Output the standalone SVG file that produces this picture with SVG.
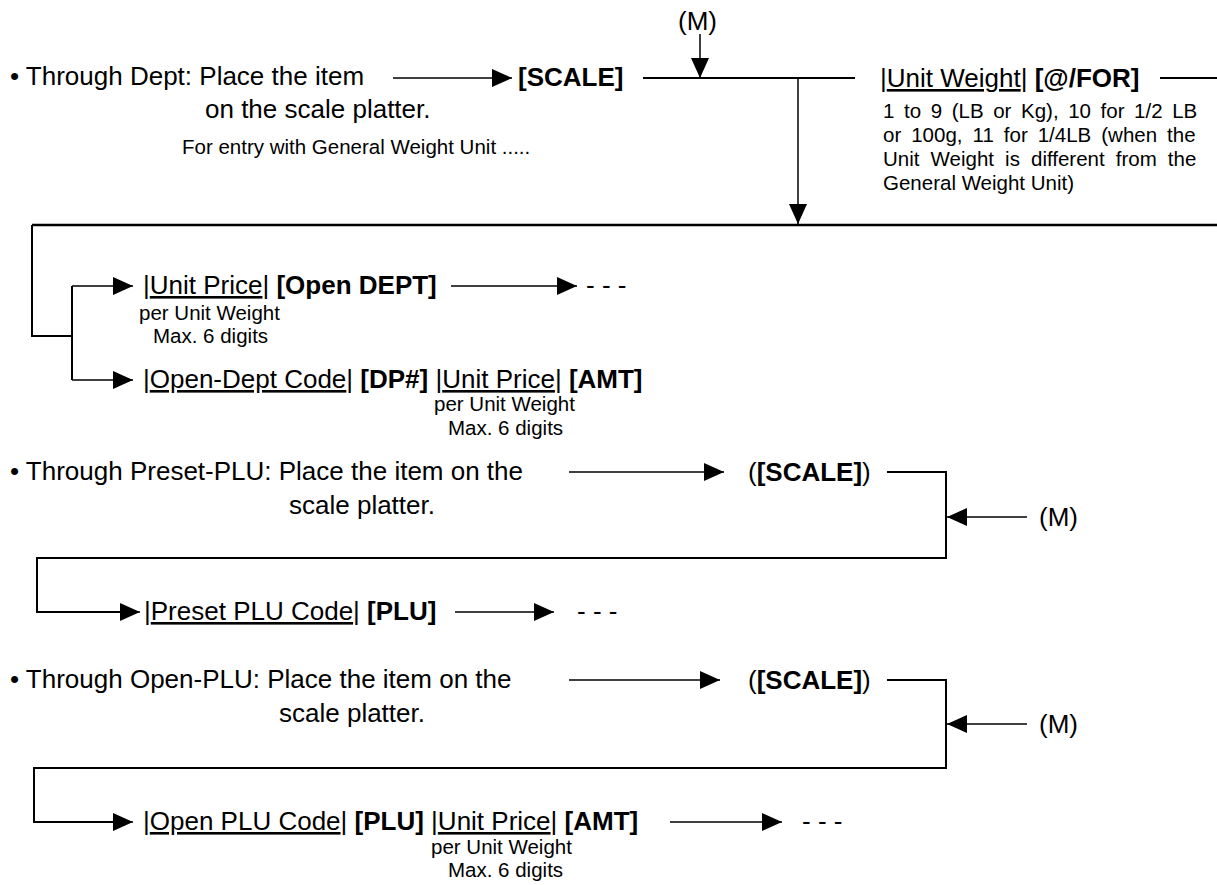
<svg xmlns="http://www.w3.org/2000/svg" width="1217" height="885" viewBox="0 0 1217 885">
<defs>
<marker id="ah" viewBox="0 0 20 18" markerWidth="20" markerHeight="18" refX="20" refY="9" orient="auto" markerUnits="userSpaceOnUse"><path d="M0,0 L20,9 L0,18 Z" fill="#000"/></marker>
<style>
text{font-family:"Liberation Sans",Arial,Helvetica,sans-serif;font-size:26px;fill:#000}
.s{font-size:20.5px}
.b{font-weight:bold}
.u{text-decoration:underline}
.ar{stroke:#000;stroke-width:1.5;fill:none;marker-end:url(#ah)}
.ln{stroke:#000;stroke-width:2;fill:none}
.lk{stroke:#000;stroke-width:2.5;fill:none}
</style>
</defs>
<rect width="1217" height="885" fill="#fff"/>
<g id="connectors">
<line class="ar" x1="700" y1="34" x2="700" y2="78"/>
<line class="ar" x1="393" y1="78" x2="512" y2="78"/>
<line class="ln" x1="643" y1="78" x2="855" y2="78"/>
<line class="ar" x1="798" y1="78" x2="798" y2="224"/>
<line class="ln" x1="1160" y1="78" x2="1217" y2="78"/>
<line class="lk" x1="32" y1="225" x2="1217" y2="225"/>
<path class="ln" d="M32,225 V336 H72 M72,286 V380"/>
<path class="ar" d="M72,286 H133"/>
<path class="ar" d="M72,380 H133"/>
<line class="ar" x1="451" y1="286" x2="577" y2="286"/>
<line class="ar" x1="569" y1="472" x2="724" y2="472"/>
<path class="ln" d="M887,472 H946 V558 H37 V612 H125"/>
<path class="ar" d="M120,612 H140"/>
<line class="ar" x1="1027" y1="517" x2="947" y2="517"/>
<line class="ar" x1="455" y1="612" x2="554" y2="612"/>
<line class="ar" x1="569" y1="680" x2="720" y2="680"/>
<path class="ln" d="M887,680 H946 V768 H34 V822 H120"/>
<path class="ar" d="M115,822 H133"/>
<line class="ar" x1="1027" y1="724" x2="947" y2="724"/>
<line class="ar" x1="670" y1="822" x2="782" y2="822"/>
</g>
<g id="node-m1"><text x="678" y="30">(M)</text></g>
<g id="node-dept"><text x="10" y="85">• Through Dept: Place the item</text><text x="205" y="118">on the scale platter.</text><text class="s" x="182" y="154">For entry with General Weight Unit .....</text></g>
<g id="node-scale1"><text class="b" x="518" y="86">[SCALE]</text></g>
<g id="node-unitweight"><text x="880" y="87">|<tspan class="u">Unit Weight</tspan>| <tspan class="b">[@/FOR]</tspan></text>
<text class="s" x="883" y="118" word-spacing="3.9">1 to 9 (LB or Kg), 10 for 1/2 LB</text>
<text class="s" x="883" y="142" word-spacing="4.3">or 100g, 11 for 1/4LB (when the</text>
<text class="s" x="883" y="166" word-spacing="5.4">Unit Weight is different from the</text>
<text class="s" x="883" y="190">General Weight Unit)</text></g>
<g id="node-openprice"><text x="143" y="294">|<tspan class="u">Unit Price</tspan>| <tspan class="b">[Open DEPT]</tspan></text><text class="s" x="139" y="320">per Unit Weight</text><text class="s" x="153" y="343">Max. 6 digits</text></g>
<g id="node-cont1"><text x="586" y="294">- - -</text></g>
<g id="node-opendeptcode"><text x="143" y="388">|<tspan class="u">Open-Dept Code</tspan>| <tspan class="b">[DP#]</tspan> |<tspan class="u">Unit Price</tspan>| <tspan class="b">[AMT]</tspan></text><text class="s" x="434" y="411">per Unit Weight</text><text class="s" x="448" y="435">Max. 6 digits</text></g>
<g id="node-preset"><text x="10" y="480">• Through Preset-PLU: Place the item on the</text><text x="289" y="514">scale platter.</text></g>
<g id="node-scale2"><text x="748" y="481">(<tspan class="b">[SCALE]</tspan>)</text></g>
<g id="node-m2"><text x="1039" y="526">(M)</text></g>
<g id="node-presetcode"><text x="144" y="620">|<tspan class="u">Preset PLU Code</tspan>| <tspan class="b">[PLU]</tspan></text></g>
<g id="node-cont2"><text x="577" y="620">- - -</text></g>
<g id="node-openplu"><text x="10" y="688">• Through Open-PLU: Place the item on the</text><text x="279" y="722">scale platter.</text></g>
<g id="node-scale3"><text x="748" y="689">(<tspan class="b">[SCALE]</tspan>)</text></g>
<g id="node-m3"><text x="1039" y="733">(M)</text></g>
<g id="node-openplucode"><text x="143" y="830">|<tspan class="u">Open PLU Code</tspan>| <tspan class="b">[PLU]</tspan> |<tspan class="u">Unit Price</tspan>| <tspan class="b">[AMT]</tspan></text><text class="s" x="431" y="854">per Unit Weight</text><text class="s" x="448" y="877">Max. 6 digits</text></g>
<g id="node-cont3"><text x="802" y="830">- - -</text></g>
</svg>
